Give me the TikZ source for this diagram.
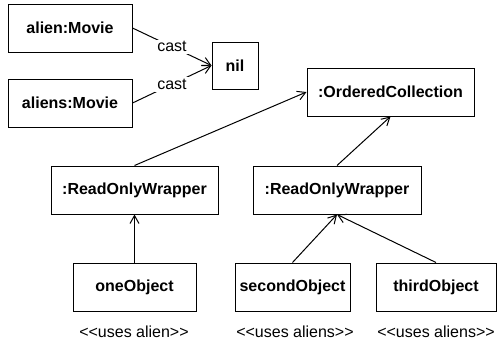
\documentclass[tikz,border=0pt]{standalone}
\usepackage{fontspec}
\setmainfont{Liberation Sans}
\usetikzlibrary{arrows.meta}

\tikzset{
    obj/.style={draw, line width=1pt, minimum height=48pt, inner sep=2pt,
        font=\fontsize{16}{19}\selectfont\bfseries},
    note/.style={font=\fontsize{16}{19}\selectfont, inner sep=2pt},
}

\begin{document}
\begin{tikzpicture}[x=1pt, y=-1pt, line width=1pt, >={Straight Barb[length=8pt,width=9pt]}]
    \useasboundingbox (0,0) rectangle (497,343);
    % Movies and nil
    \node[obj, minimum width=124pt] (alien) at (70,28) {alien:Movie};
    \node[obj, minimum width=124pt] (aliens) at (70,103) {aliens:Movie};
    \node[obj, minimum width=46pt, minimum height=47pt] (nil) at (235,65.5) {nil};
    % Collection and wrappers
    \node[obj, minimum width=167pt] (coll) at (390.5,92) {:OrderedCollection};
    \node[obj, minimum width=167pt] (wrap1) at (134.5,190) {:ReadOnlyWrapper};
    \node[obj, minimum width=168pt] (wrap2) at (337,190) {:ReadOnlyWrapper};
    % Client objects
    \foreach \name/\x/\w/\txt/\lx/\uses in {one/134.5/123/oneObject/134/alien,
        second/292.5/115/secondObject/295/aliens, third/436/120/thirdObject/436/aliens} {
        \node[obj, minimum width=\w pt] (\name) at (\x,287) {\txt};
        \node[note] (\name-uses) at (\lx,332) {<{}<uses \uses>{}>};
    }
    % Arrows
    \draw[->] (alien.east) -- node[note, fill=white] {cast} (nil.west);
    \draw[->] (aliens.east) -- node[note, fill=white] {cast} (nil.west);
    \draw[->] (wrap1.north) -- (coll.west);
    \draw[->] (wrap2.north) -- (coll.south);
    \draw[->] (one.north) -- (wrap1.south);
    \foreach \i in {second,third} {
        \draw[->] (\i.north) -- (wrap2.south);
    }
\end{tikzpicture}
\end{document}
